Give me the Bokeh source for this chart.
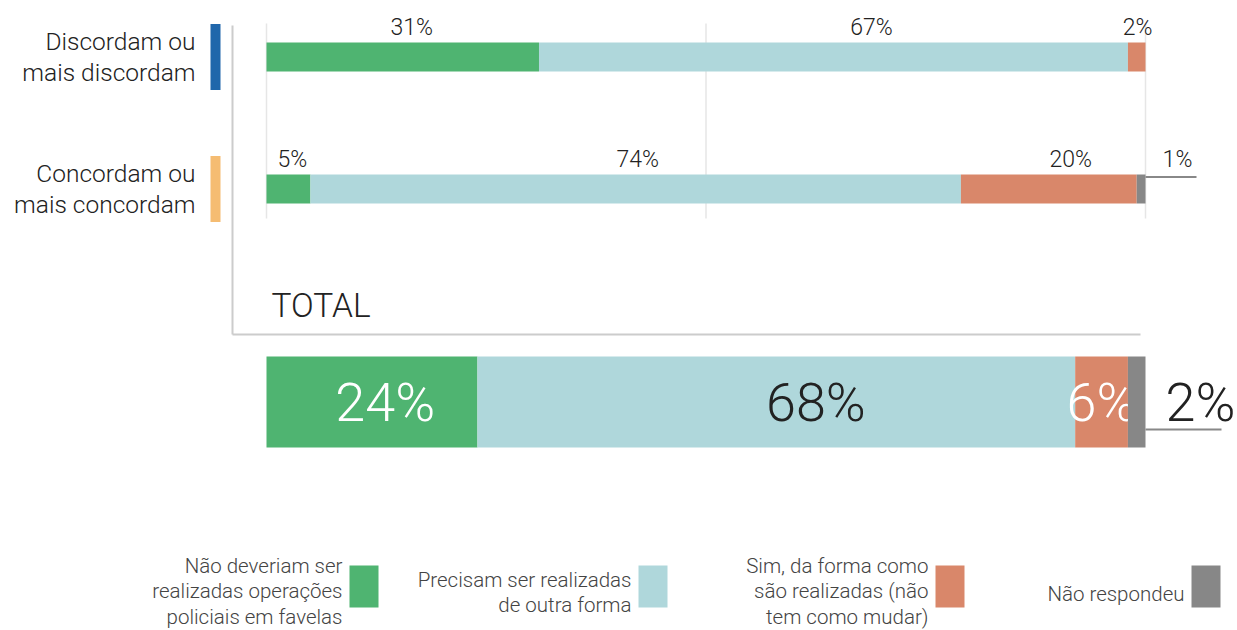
from bokeh.plotting import figure
from bokeh.models import Range1d
from bokeh.core.properties import value
from bokeh.embed import file_html
from bokeh.resources import INLINE

# ---- data ----
groups = ["Discordam ou\nmais discordam", "Concordam ou\nmais concordam"]
series = ["Não deveriam ser\nrealizadas operações\npoliciais em favelas",
          "Precisam ser realizadas\nde outra forma",
          "Sim, da forma como\nsão realizadas (não\ntem como mudar)",
          "Não respondeu"]
colors = ["#4fb471", "#afd7db", "#d9876a", "#878787"]
group_values = [[31, 67, 2, 0], [5, 74, 20, 1]]
total_values = [24, 68, 6, 2]
group_marks = ["#2067ab", "#f5bc72"]

W, H = 1237, 630
PXP = 8.79          # pixels per percent
X0 = 266            # screen x of 0%

def X(px):
    return (px - X0) / PXP

# label nudges (pixels) for the upper rows
label_nudge = [[9, 38, 1, 0], [4, 2, 22, 0]]

FONT = value("Roboto Light")
p = figure(width=W, height=H, output_backend="svg", toolbar_location=None,
           x_range=Range1d(X(0), X(W)), y_range=Range1d(H, 0),
           min_border=0)
p.axis.visible = False
p.grid.visible = False
p.outline_line_color = None

# frame lines
p.segment(x0=[X(232)], y0=[25], x1=[X(232)], y1=[334], line_color="#cccccc", line_width=2)
p.segment(x0=[X(232)], y0=[334], x1=[X(1140)], y1=[334], line_color="#cccccc", line_width=2)
# gridlines at 0, 50, 100
p.segment(x0=[0, 50, 100], y0=[23] * 3, x1=[0, 50, 100], y1=[218] * 3,
          line_color="#e6e6e6", line_width=1.5)

row_y = [56.5, 188.5]
for gi, vals in enumerate(group_values):
    y = row_y[gi]
    left = 0
    for si, v in enumerate(vals):
        if v > 0:
            p.hbar(y=[y], left=[left], right=[left + v], height=29, color=colors[si], line_color=None)
            cx = left + v / 2
            if si == 3:
                p.segment(x0=[left + v], y0=[y - 12], x1=[X(1196)], y1=[y - 12],
                          line_color="#888888", line_width=2)
                cx = X(1177)
            p.text(x=[cx], y=[y - 30], text=[f"{v}%"], text_font=FONT, text_font_size="23px",
                   text_color="#222222", text_align="center", text_baseline="middle",
                   x_offset=label_nudge[gi][si])
        left += v
    # group label
    p.text(x=[X(195)], y=[y], text=[groups[gi]], text_font=FONT, text_font_size="24.5px",
           text_color="#222222", text_align="right", text_baseline="middle", text_line_height=1.05)
    p.rect(x=[X(215)], y=[y], width=10 / PXP, height=66, color=group_marks[gi], line_color=None)

p.text(x=[X(271)], y=[305], text=["TOTAL"], text_font=FONT, text_font_size="33.5px",
       text_color="#222222", text_align="left", text_baseline="middle")

# total bar
ty = 401.5
left = 0
tcol = ["white", "#222222", "white", "#222222"]
for si, v in enumerate(total_values):
    p.hbar(y=[ty], left=[left], right=[left + v], height=91, color=colors[si], line_color=None)
    cx = left + v / 2
    if si == 3:
        p.segment(x0=[left + v], y0=[429], x1=[X(1221)], y1=[429], line_color="#888888", line_width=2)
        cx = X(1200)
    elif si == 1:
        cx = left + v / 2 + 4.5
    elif si == 0:
        cx = left + v / 2 + 1.5
    p.text(x=[cx], y=[ty], text=[f"{v}%"], text_font=FONT, text_font_size="54px",
           text_color=tcol[si], text_align="center", text_baseline="middle")
    left += v

# legend
leg_sq = [349, 638, 935, 1191]
for si, name in enumerate(series):
    sx = leg_sq[si]
    n = name.count("\n")
    p.rect(x=[X(sx + 14.5)], y=[586], width=29 / PXP, height=42, color=colors[si], line_color=None)
    p.text(x=[X(sx - 7)], y=[591 if n == 2 else (592 if n == 1 else 593)],
           text=[name], text_font=FONT, text_font_size="20.5px", text_color="#444444",
           text_align="right", text_baseline="middle", text_line_height=1.06)

open("out.html", "w").write(file_html(p, INLINE))
